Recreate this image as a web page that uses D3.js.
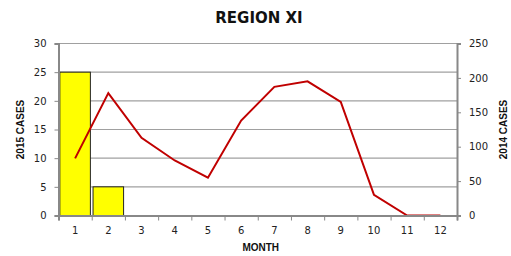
<!DOCTYPE html>
<html>
<head>
    <title>Region XI</title>
    <script src="https://cdnjs.cloudflare.com/ajax/libs/d3/7.8.5/d3.min.js"></script>
    <style>
        body {
            margin: 0;
            background: white;
            font-family: "DejaVu Sans", Verdana, sans-serif;
        }
        .tick-label {
            font-size: 10px;
            fill: #222;
        }
        .axis-title {
            font-family: "Liberation Sans", Arial, sans-serif;
            font-size: 10px;
            font-weight: bold;
            fill: #111;
        }
        .chart-title {
            font-family: "DejaVu Sans", sans-serif;
            font-size: 15px;
            font-weight: bold;
            fill: #111;
        }
    </style>
</head>
<body>
    <div id="chart"></div>
    <script>
        const months = ["1", "2", "3", "4", "5", "6", "7", "8", "9", "10", "11", "12"];
        const cases2015 = [25, 5, null, null, null, null, null, null, null, null, null, null];
        const cases2014 = [83, 178, 113, 80, 55, 138, 187, 195, 165, 30, 0, 0];
        const leftTicks = [0, 5, 10, 15, 20, 25, 30];
        const rightTicks = [0, 50, 100, 150, 200, 250];

        const W = 511, H = 256;
        const margin = { top: 43.5, right: 54, bottom: 40.5, left: 58.5 };
        const width = W - margin.left - margin.right;
        const height = H - margin.top - margin.bottom;

        const svg = d3.select("#chart")
            .append("svg")
            .attr("width", W)
            .attr("height", H);

        const g = svg.append("g")
            .attr("transform", `translate(${margin.left},${margin.top})`);

        const x = d3.scaleBand()
            .domain(months)
            .range([0, width])
            .paddingInner(0.08)
            .paddingOuter(0.04);

        const yLeft = d3.scaleLinear().domain([0, 30]).range([height, 0]);
        const yRight = d3.scaleLinear().domain([0, 250]).range([height, 0]);

        // gridlines
        g.selectAll(".grid")
            .data(leftTicks.slice(1))
            .enter().append("line")
            .attr("x1", 0)
            .attr("x2", width)
            .attr("y1", d => yLeft(d))
            .attr("y2", d => yLeft(d))
            .attr("stroke", "#a0a0a0")
            .attr("stroke-width", 1.2);

        // bars (2015)
        g.selectAll(".bar")
            .data(months.map((m, i) => ({ m, v: cases2015[i] })).filter(d => d.v != null))
            .enter().append("rect")
            .attr("x", d => x(d.m))
            .attr("y", d => yLeft(d.v))
            .attr("width", x.bandwidth())
            .attr("height", d => height - yLeft(d.v))
            .attr("fill", "#ffff00")
            .attr("stroke", "#222")
            .attr("stroke-width", 1);

        // line (2014)
        const line = d3.line()
            .x((d, i) => x(months[i]) + x.bandwidth() / 2)
            .y(d => yRight(d));

        g.append("path")
            .datum(cases2014)
            .attr("d", line)
            .attr("fill", "none")
            .attr("stroke", "#c00000")
            .attr("stroke-width", 2);

        // left axis
        const leftAxis = g.append("g")
            .call(d3.axisLeft(yLeft).tickValues(leftTicks).tickSize(4).tickPadding(8));
        // right axis
        const rightAxis = g.append("g")
            .attr("transform", `translate(${width},0)`)
            .call(d3.axisRight(yRight).tickValues(rightTicks).tickSize(4).tickPadding(8));
        // bottom axis
        const xb = d3.scaleLinear().domain([0, 12]).range([0, width]);
        const bottomAxis = g.append("g")
            .attr("transform", `translate(0,${height})`)
            .call(d3.axisBottom(xb).ticks(12).tickSize(5).tickFormat(""));
        g.append("g")
            .attr("transform", `translate(0,${height})`)
            .call(d3.axisBottom(x).tickSize(0).tickPadding(11))
            .call(a => a.select(".domain").remove());

        [leftAxis, rightAxis, bottomAxis].forEach(a => {
            a.select(".domain").attr("stroke", "#888").attr("stroke-width", 2);
            a.selectAll(".tick line").attr("stroke", "#888").attr("stroke-width", 1);
        });
        g.selectAll(".tick text")
            .attr("class", "tick-label")
            .style("font-family", "DejaVu Sans")
            .style("font-size", "10px");

        // titles
        svg.append("text")
            .attr("class", "chart-title")
            .attr("x", 259)
            .attr("y", 23)
            .attr("text-anchor", "middle")
            .text("REGION XI");

        svg.append("text")
            .attr("class", "axis-title")
            .attr("transform", `translate(24,${margin.top + height / 2}) rotate(-90)`)
            .attr("text-anchor", "middle")
            .text("2015 CASES");

        svg.append("text")
            .attr("class", "axis-title")
            .attr("transform", `translate(507,${margin.top + height / 2}) rotate(-90)`)
            .attr("text-anchor", "middle")
            .text("2014 CASES");

        svg.append("text")
            .attr("class", "axis-title")
            .attr("x", margin.left + width / 2 + 3)
            .attr("y", 251)
            .attr("text-anchor", "middle")
            .text("MONTH");
    </script>
</body>
</html>
